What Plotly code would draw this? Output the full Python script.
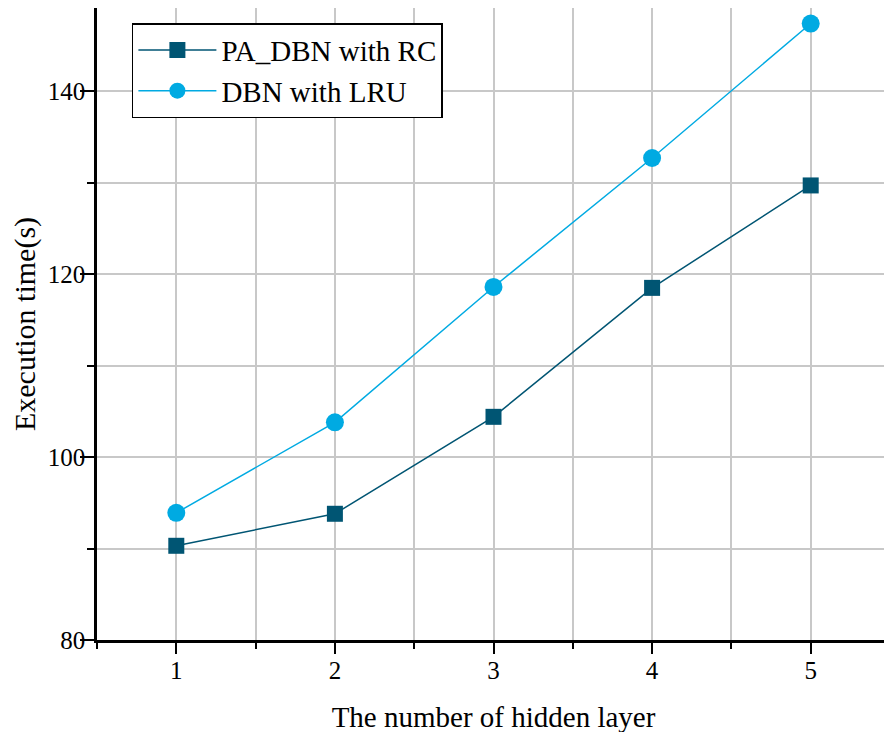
import plotly.graph_objects as go

layers = [1, 2, 3, 4, 5]
pa_dbn_rc = [90.3, 93.8, 104.4, 118.5, 129.7]
dbn_lru = [93.9, 103.8, 118.6, 132.7, 147.4]

x_ticks = [1, 2, 3, 4, 5]
y_ticks = [80, 100, 120, 140]

dark = "#005573"
light = "#00aae2"
serif = "Liberation Serif, Times New Roman, serif"

fig = go.Figure()
fig.add_trace(go.Scatter(x=layers, y=pa_dbn_rc, mode="lines+markers", name="PA_DBN with RC",
                         line=dict(color=dark, width=1.5),
                         marker=dict(symbol="square", size=16, color=dark)))
fig.add_trace(go.Scatter(x=layers, y=dbn_lru, mode="lines+markers", name="DBN with LRU",
                         line=dict(color=light, width=1.5),
                         marker=dict(symbol="circle", size=18, color=light)))

grid = "#c8c8c8"
tickfont = dict(family=serif, size=25, color="black")
y_range = [80, 149.1]  # page sits 8px down/right, top of the frame is trimmed

fig.update_layout(
    width=892, height=732,
    margin=dict(l=89, r=10, t=0, b=100),
    paper_bgcolor="white", plot_bgcolor="white",
    font=dict(family=serif, size=25, color="black"),
    showlegend=True,
    legend=dict(x=0.044, y=0.976, xanchor="left", yanchor="top",
                bgcolor="white", bordercolor="black", borderwidth=1.5,
                font=dict(family=serif, size=29, color="black"), itemwidth=78, tracegroupgap=0),
    xaxis=dict(range=[0.5, 5.5], tickvals=x_ticks, showline=True, linecolor="black", linewidth=2.5,
               ticks="outside", ticklen=11, tickwidth=2, tickcolor="black", tickfont=tickfont,
               ticklabelstandoff=-5,
               showgrid=True, gridcolor=grid, gridwidth=1.5, zeroline=False, automargin=False,
               minor=dict(dtick=0.5, tick0=0.5, ticks="outside", ticklen=6, tickwidth=2,
                          tickcolor="black", showgrid=True, gridcolor=grid, gridwidth=1.5),
               title=dict(text="The number of hidden layer",
                          font=dict(family=serif, size=29, color="black"), standoff=24)),
    yaxis=dict(range=y_range, tickvals=y_ticks, showline=True, linecolor="black", linewidth=2.5,
               ticks="outside", ticklen=14, tickwidth=2, tickcolor="black", tickfont=tickfont,
               ticklabelstandoff=-10,
               showgrid=True, gridcolor=grid, gridwidth=1.5, zeroline=False, automargin=False,
               minor=dict(dtick=10, tick0=80, ticks="outside", ticklen=7, tickwidth=2,
                          tickcolor="black", showgrid=True, gridcolor=grid, gridwidth=1.5),
               title=dict(text="Execution time(s)",
                          font=dict(family=serif, size=30, color="black"))),
    xaxis2=dict(overlaying="x", side="top", anchor="y", range=[0.5, 5.5], tickvals=x_ticks,
                showticklabels=False, showline=True, linecolor="black", linewidth=2.5,
                ticks="inside", ticklen=12, tickwidth=2, tickcolor="black", showgrid=False,
                zeroline=False, automargin=False,
                minor=dict(dtick=0.5, tick0=0.5, ticks="inside", ticklen=6, tickwidth=2,
                           tickcolor="black", showgrid=False)),
    yaxis2=dict(overlaying="y", side="right", anchor="x", range=y_range, tickvals=y_ticks,
                showticklabels=False, showline=True, linecolor="black", linewidth=2.5,
                ticks="inside", ticklen=12, tickwidth=2, tickcolor="black", showgrid=False,
                zeroline=False, automargin=False,
                minor=dict(dtick=10, tick0=80, ticks="inside", ticklen=6, tickwidth=2,
                           tickcolor="black", showgrid=False)),
)

fig.write_html("out.html")
